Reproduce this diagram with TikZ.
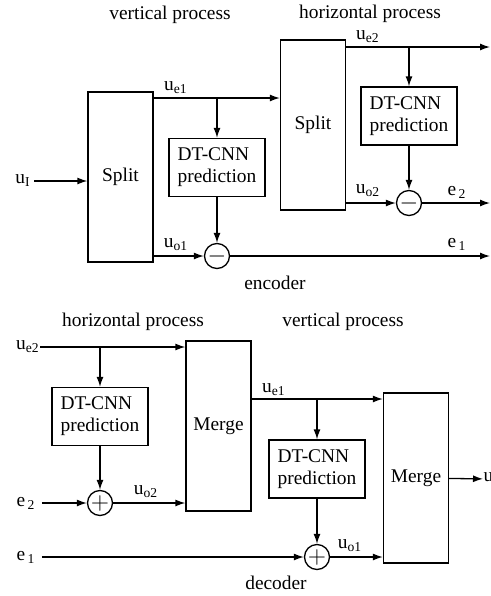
\documentclass[tikz,border=0pt]{standalone}
\usepackage{fontspec}
\setmainfont{Liberation Serif}
\usetikzlibrary{arrows.meta}
\begin{document}
\begin{tikzpicture}[x=0.5pt, y=-0.5pt, line width=0.65pt,
  font=\fontsize{9.7}{11}\selectfont,
  >={Latex[length=5pt,width=3.5pt]},
  blk/.style={draw, inner sep=0pt, minimum width=32.5pt, minimum height=85pt},
  dtbox/.style={draw, align=left, inner sep=0pt, minimum width=48pt, minimum height=29pt},
  sumnode/.style={draw, circle, inner sep=0pt, minimum size=12.5pt, font=\fontsize{13}{13}\selectfont},
  lbl/.style={inner sep=0pt}]
\useasboundingbox (0,0) rectangle (491,596);
% ---------- encoder ----------
\node[lbl] (vtop) at (170,15) {vertical process};
\node[lbl] (htop) at (370,14) {horizontal process};
\node[blk] (split1) at (120.5,177) {Split};
\node[blk] (split2) at (313,125) {Split};
\node[dtbox] (dt1) at (217,167.5) {DT-CNN\\prediction};
\node[dtbox] (dt2) at (409,116) {DT-CNN\\prediction};
\node[sumnode] (min1) at (217,256) {$-$};
\node[sumnode] (min2) at (409,203) {$-$};
\node[lbl] (uIn) at (23,181) {u\textsubscript{I}};
\coordinate (ce1) at (217,98);
\coordinate (ce2) at (409,47);
\coordinate (oute2) at (490,47);
\coordinate (oute2b) at (490,203);
\coordinate (oute1) at (490,256);
% signals
\draw[->] (uIn.east) ++(3,0) coordinate (uInS) -- (uInS -| split1.west);
\draw (split1.east |- ce1) -- (ce1);
\draw[->] (ce1) -- (ce1 -| split2.west);
\draw[->] (ce1) -- (dt1);
\draw[->] (dt1) -- (min1);
\draw[->] (split1.east |- min1) -- (min1);
\draw[->] (min1) -- (oute1);
\draw (split2.east |- ce2) -- (ce2);
\draw[->] (ce2) -- (oute2);
\draw[->] (ce2) -- (dt2);
\draw[->] (dt2) -- (min2);
\draw[->] (split2.east |- min2) -- (min2);
\draw[->] (min2) -- (oute2b);
\node[lbl] (lue1) at (176,88) {u\textsubscript{e1}};
\node[lbl] (luo1) at (176,245) {u\textsubscript{o1}};
\node[lbl] (lue2) at (368,37) {u\textsubscript{e2}};
\node[lbl] (luo2) at (368,191) {u\textsubscript{o2}};
\node[lbl] (le2) at (457,192) {e\textsubscript{\,2}};
\node[lbl] (le1) at (457,244) {e\textsubscript{\,1}};
\node[lbl] (enc) at (275,283) {encoder};
% ---------- decoder ----------
\node[lbl] (hbot) at (133,322) {horizontal process};
\node[lbl] (vbot) at (343,322) {vertical process};
\node[blk] (merge1) at (218.5,426) {Merge};
\node[blk] (merge2) at (416,478) {Merge};
\node[dtbox] (dt3) at (100,416.5) {DT-CNN\\prediction};
\node[dtbox] (dt4) at (317,469) {DT-CNN\\prediction};
\node[sumnode] (plus1) at (100,503) {$+$};
\node[sumnode] (plus2) at (317,557) {$+$};
\node[lbl] (ue2In) at (28,347) {u\textsubscript{e2}};
\node[lbl] (e2In) at (26,503) {e\textsubscript{\,2}};
\node[lbl] (e1In) at (26,557) {e\textsubscript{\,1}};
\coordinate (cd2) at (100,347);
\coordinate (cd1) at (317,399);
\draw (ue2In.east) -- (cd2);
\draw[->] (cd2) -- (cd2 -| merge1.west);
\draw[->] (cd2) -- (dt3);
\draw[->] (dt3) -- (plus1);
\draw[->] (e2In.east) ++(6,0) coordinate (e2S) -- (plus1);
\draw[->] (plus1) -- (plus1 -| merge1.west);
\draw (merge1.east |- cd1) -- (cd1);
\draw[->] (cd1) -- (cd1 -| merge2.west);
\draw[->] (cd1) -- (dt4);
\draw[->] (dt4) -- (plus2);
\draw[->] (e1In.east) ++(6,0) coordinate (e1S) -- (plus2);
\draw[->] (plus2) -- (plus2 -| merge2.west);
\node[lbl, anchor=west] (uOut) at (483,479) {u\textsubscript{I}};
\draw[->] (merge2) -- (uOut);
\node[lbl] (ldue1) at (274,390) {u\textsubscript{e1}};
\node[lbl] (lduo2) at (146,492) {u\textsubscript{o2}};
\node[lbl] (lduo1) at (350,546) {u\textsubscript{o1}};
\node[lbl] (dec) at (276,583) {decoder};
\end{tikzpicture}
\end{document}
